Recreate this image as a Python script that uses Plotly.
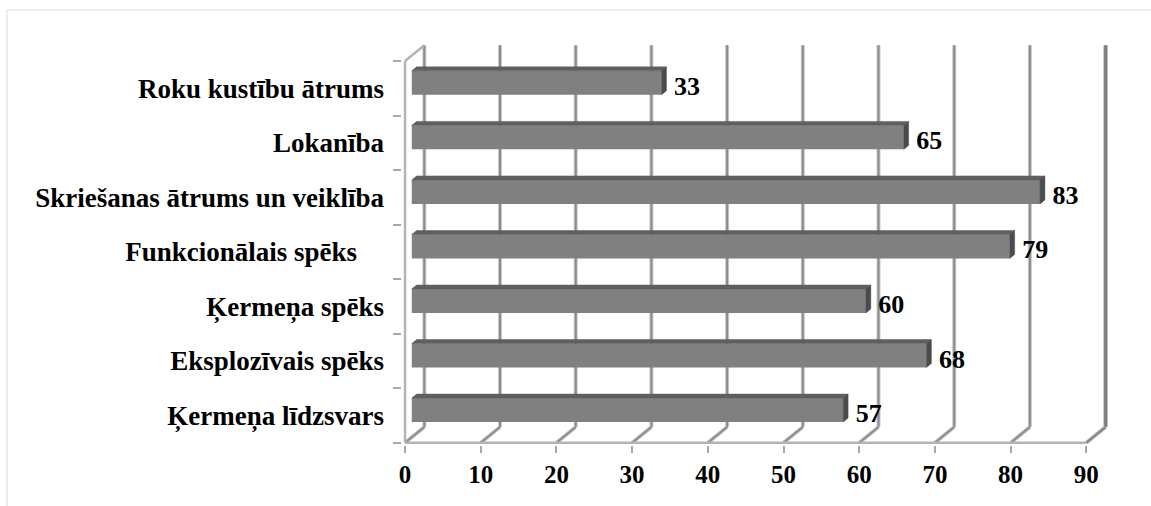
import plotly.graph_objects as go

# Survey results per physical quality (bottom to top on the chart)
categories = [
    "Ķermeņa līdzsvars",
    "Eksplozīvais spēks",
    "Ķermeņa spēks",
    "Funkcionālais spēks    ",
    "Skriešanas ātrums un veiklība",
    "Lokanība",
    "Roku kustību ātrums",
]
values = [57, 68, 60, 79, 83, 65, 33]
x_ticks = [0, 10, 20, 30, 40, 50, 60, 70, 80, 90]

# Page and plot-area geometry
W, H = 1151, 506
ML, MR, MT, MB = 402, 42, 42, 61
X_RANGE = [-0.4, 93.0]
Y_RANGE = [-0.54, 6.85]

# Depth of the pseudo-3D box, in axis units
DX, DY = 2.55, 0.29
F_FRONT, F_BACK = 0.35, 0.60      # bar depth position (fraction of box depth)
BAR_H = 0.44                      # bar thickness in category units

FONT = "Liberation Serif"
FACE = "#808080"
TOP = "#5f5f5f"
END = "#4b4b4b"
GRID_LIGHT = "#c9c9c9"
GRID_DARK = "#8c8c8c"

n = len(categories)
y_lo, y_hi = -0.5, n - 0.5
x_max = x_ticks[-1]

fig = go.Figure()

# Front faces of the bars
fig.add_trace(go.Bar(
    orientation="h",
    x=values,
    y=[i + F_FRONT * DY for i in range(n)],
    base=F_FRONT * DX,
    width=BAR_H,
    marker=dict(color=FACE, line=dict(width=0)),
    hoverinfo="skip",
    showlegend=False,
))

# Top and end faces of the bars
top_x, top_y, end_x, end_y = [], [], [], []
for i, v in enumerate(values):
    yt1 = i + BAR_H / 2 + F_FRONT * DY
    yt2 = i + BAR_H / 2 + F_BACK * DY
    yb1 = i - BAR_H / 2 + F_FRONT * DY
    yb2 = i - BAR_H / 2 + F_BACK * DY
    x1 = F_FRONT * DX
    x2 = F_BACK * DX
    top_x += [x1, v + x1, v + x2, x2, x1, None]
    top_y += [yt1, yt1, yt2, yt2, yt1, None]
    end_x += [v + x1, v + x1, v + x2, v + x2, v + x1, None]
    end_y += [yb1, yt1, yt2, yb2, yb1, None]

fig.add_trace(go.Scatter(
    x=top_x, y=top_y, mode="lines", fill="toself", fillcolor=TOP,
    line=dict(color=TOP, width=0.5), hoverinfo="skip", showlegend=False,
))
fig.add_trace(go.Scatter(
    x=end_x, y=end_y, mode="lines", fill="toself", fillcolor=END,
    line=dict(color=END, width=0.5), hoverinfo="skip", showlegend=False,
))

# Value labels
fig.add_trace(go.Scatter(
    x=[v + F_BACK * DX + 1.0 for v in values],
    y=list(range(n)),
    mode="text",
    text=[str(v) for v in values],
    textposition="middle right",
    textfont=dict(family=FONT, size=26, color="black", weight="bold"),
    cliponaxis=False,
    hoverinfo="skip",
    showlegend=False,
))

# Wall and floor lines of the box
shapes = []


def grid_line(x0, y0, x1, y1, dark=GRID_DARK, wide=4, narrow=2):
    for color, width in ((GRID_LIGHT, wide), (dark, narrow)):
        shapes.append(dict(type="line", xref="x", yref="y", x0=x0, y0=y0,
                           x1=x1, y1=y1, layer="below",
                           line=dict(color=color, width=width)))


for t in x_ticks:
    if t == x_max:
        # right edge of the box is drawn a little heavier
        grid_line(t + DX, y_lo + DY, t + DX, y_hi + DY, "#7f7f7f", 5, 3)
        grid_line(t, y_lo, t + DX, y_lo + DY, "#8a8a8a", 4, 2.5)
    else:
        grid_line(t + DX, y_lo + DY, t + DX, y_hi + DY)   # back wall
        grid_line(t, y_lo, t + DX, y_lo + DY)             # floor

# front floor edge and left wall edges
for x0, y0, x1, y1 in (
    (0, y_lo, x_max, y_lo),
    (0, y_lo, 0, y_hi),
    (0, y_hi, DX, y_hi + DY),
):
    shapes.append(dict(type="line", xref="x", yref="y", x0=x0, y0=y0,
                       x1=x1, y1=y1, layer="below",
                       line=dict(color="#b4b4b4", width=2.5)))

# Outer frame of the chart area
pw = W - ML - MR
ph = H - MT - MB
shapes.append(dict(
    type="rect", xref="paper", yref="paper",
    x0=(7 - ML) / pw, x1=(W + 10 - ML) / pw,
    y0=((H - MB) - (H + 10)) / ph, y1=((H - MB) - 10) / ph,
    line=dict(color="#d9d9d9", width=1), fillcolor="rgba(0,0,0,0)",
    layer="below",
))

ticktext = [c.rstrip() + "\u00a0" * (len(c) - len(c.rstrip())) for c in categories]

fig.update_layout(
    width=W, height=H,
    margin=dict(l=ML, r=MR, t=MT, b=MB, pad=0),
    paper_bgcolor="white",
    plot_bgcolor="white",
    barmode="overlay",
    shapes=shapes,
    showlegend=False,
    xaxis=dict(
        range=X_RANGE,
        tickmode="array", tickvals=x_ticks,
        ticks="outside", ticklen=7, tickwidth=2, tickcolor="#a8a8a8",
        showgrid=False, zeroline=False, showline=False,
        tickfont=dict(family=FONT, size=25, color="black", weight="bold"),
        fixedrange=True,
    ),
    yaxis=dict(
        range=Y_RANGE,
        tickmode="array", tickvals=list(range(n)), ticktext=ticktext,
        ticks="",
        ticklabelstandoff=17,
        minor=dict(tickmode="array", tickvals=[y_lo + k for k in range(n + 1)],
                   ticks="outside", ticklen=8, tickwidth=2,
                   tickcolor="#a8a8a8", showgrid=False),
        showgrid=False, zeroline=False, showline=False,
        tickfont=dict(family=FONT, size=27, color="black", weight="bold"),
        fixedrange=True,
    ),
)

fig.write_html("out.html")
